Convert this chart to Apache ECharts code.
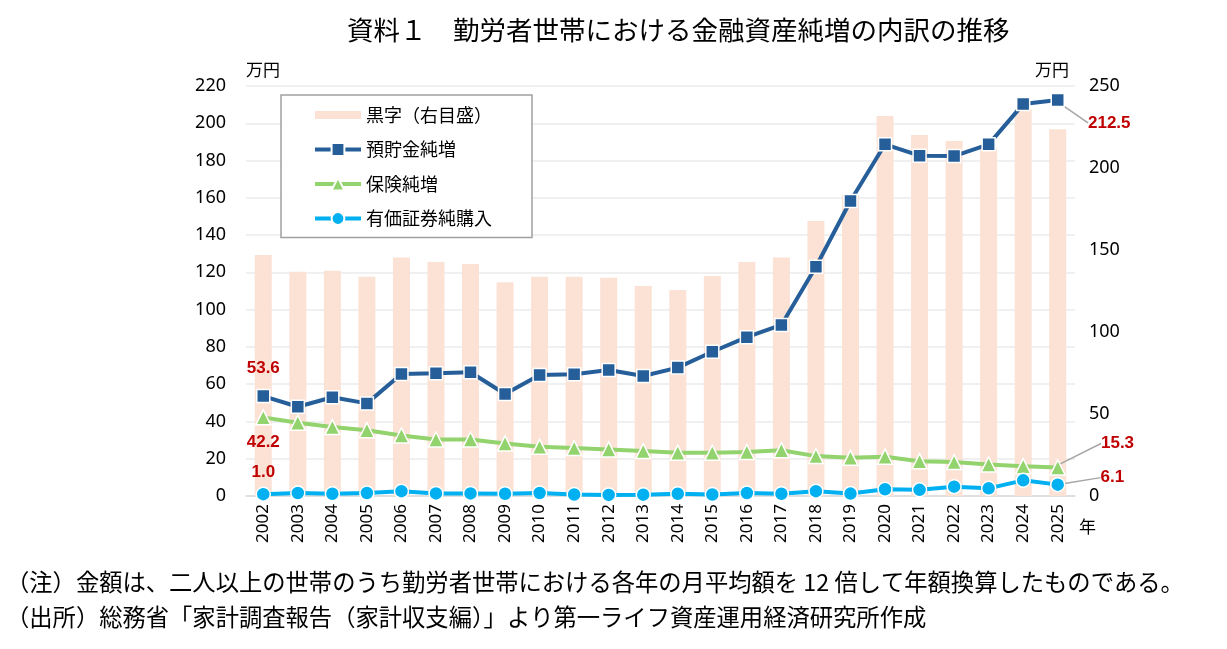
<!DOCTYPE html>
<html lang="ja">
<head>
    <meta charset="utf-8">
    <title>勤労者世帯における金融資産純増の内訳の推移</title>
    <script src="https://cdn.jsdelivr.net/npm/echarts@6/dist/echarts.min.js"></script>
    <style type="text/css">
        html, body {margin: 0; padding: 0; background: #fff;}
        #chart {width: 1227px; height: 649px;}
    </style>
</head>
<body>
    <div id="chart"></div>
    <script>
        // data (万円)
        var years = ['2002', '2003', '2004', '2005', '2006', '2007', '2008', '2009',
            '2010', '2011', '2012', '2013', '2014', '2015', '2016', '2017',
            '2018', '2019', '2020', '2021', '2022', '2023', '2024', '2025'];
        var surplus = [147, 136.8, 137.4, 133.7, 145.5, 142.7, 141.5, 130.3,
            133.7, 133.7, 133.1, 128, 125.6, 134.1, 142.7, 145.5,
            167.7, 183.5, 231.7, 220.1, 216.5, 212, 236, 223.6];
        var deposits = [53.6, 47.9, 53, 49.7, 65.5, 65.8, 66.4, 54.7,
            64.9, 65.3, 67.6, 64.4, 68.9, 77.4, 85.2, 91.8,
            123, 158.3, 188.7, 182.6, 182.4, 188.7, 210.3, 212.5];
        var insurance = [42.2, 39.3, 37, 35.3, 32.5, 30.3, 30.3, 28.2,
            26.4, 25.7, 25, 24.1, 23.2, 23.2, 23.6, 24.6,
            21.4, 20.5, 21.1, 18.7, 18.2, 16.9, 16, 15.3];
        var securities = [1.0, 1.6, 1.2, 1.6, 2.6, 1.4, 1.4, 1.2,
            1.6, 0.8, 0.6, 0.7, 1.2, 0.8, 1.6, 1.2,
            2.6, 1.3, 3.6, 3.3, 5.0, 4.1, 8.4, 6.1];
        var seriesNames = ['黒字（右目盛）', '預貯金純増', '保険純増', '有価証券純購入'];
        var leftTicks = {min: 0, max: 220, interval: 20};
        var rightTicks = {min: 0, max: 250, interval: 50};
        var noteLines = [
            '（注）金額は、二人以上の世帯のうち勤労者世帯における各年の月平均額を 12 倍して年額換算したものである。',
            '（出所）総務省「家計調査報告（家計収支編）」より第一ライフ資産運用経済研究所作成'
        ];

        var jp = '"Noto Sans CJK JP", "Noto Sans", sans-serif';
        var last = years.length - 1;
        var redLabel = {
            color: '#c00000', fontWeight: 'bold', fontSize: 17,
            fontFamily: '"Liberation Sans", Arial, sans-serif'
        };

        // put a red value label on the first and last point only
        function withLabels(values, firstPos, firstDist) {
            return values.map(function (v, i) {
                if (i === 0) {
                    return {value: v, label: Object.assign({show: true, position: firstPos, distance: firstDist}, redLabel)};
                }
                if (i === last) {
                    return {value: v, label: Object.assign({show: true, position: 'right', distance: 5}, redLabel),
                        labelLine: {show: true, lineStyle: {color: '#a6a6a6', width: 1.5}}};
                }
                return v;
            });
        }
        function lastShift(dx, dy) {
            return function (p) {
                if (p.dataIndex === last) return {dx: dx, dy: dy};
            };
        }
        function fmt(p) { return p.value.toFixed(1); }

        var chart = echarts.init(document.getElementById('chart'));
        chart.setOption({
            animation: false,
            textStyle: {fontFamily: jp},
            title: {
                text: '資料１　勤労者世帯における金融資産純増の内訳の推移',
                left: 342, top: 12,
                textStyle: {fontSize: 26.5, fontWeight: 'normal', color: '#000', fontFamily: jp}
            },
            legend: {
                orient: 'vertical', left: 281, top: 95,
                padding: [11, 40, 10, 32],
                itemWidth: 46, itemHeight: 16, itemGap: 16.5,
                borderColor: '#a0a0a0', borderWidth: 1.5,
                backgroundColor: '#fff',
                lineStyle: {width: 4},
                textStyle: {fontSize: 18, color: '#000', fontFamily: jp},
                data: [
                    {name: seriesNames[0], icon: 'path://M0,0h46v8h-46z'},
                    {name: seriesNames[1]},
                    {name: seriesNames[2]},
                    {name: seriesNames[3]}
                ]
            },
            grid: {left: 246, right: 152, top: 86, bottom: 153},
            xAxis: {
                type: 'category', data: years,
                name: '年', nameLocation: 'end', nameGap: 4,
                nameTextStyle: {fontSize: 17, color: '#000', verticalAlign: 'top', padding: [22, 0, 0, 0]},
                axisLine: {lineStyle: {color: '#d9d9d9', width: 1.5}},
                axisTick: {show: false},
                axisLabel: {rotate: 90, fontSize: 17, color: '#000', margin: 8,
                    fontFamily: '"Noto Sans", sans-serif'}
            },
            yAxis: [{
                type: 'value', min: leftTicks.min, max: leftTicks.max, interval: leftTicks.interval,
                name: '万円', nameLocation: 'end', nameGap: 8,
                nameTextStyle: {fontSize: 17, color: '#000', align: 'left', padding: [0, 0, 0, 0]},
                axisLabel: {fontSize: 18, color: '#000', margin: 20, fontFamily: '"Noto Sans", sans-serif'},
                splitLine: {lineStyle: {color: '#ebebeb', width: 1.5}}
            }, {
                type: 'value', min: rightTicks.min, max: rightTicks.max, interval: rightTicks.interval,
                name: '万円', nameLocation: 'end', nameGap: 8,
                nameTextStyle: {fontSize: 17, color: '#000', align: 'right', padding: [0, 6, 0, 0]},
                axisLabel: {fontSize: 18, color: '#000', margin: 14, fontFamily: '"Noto Sans", sans-serif'},
                splitLine: {show: false}
            }],
            series: [{
                name: seriesNames[0], type: 'bar', yAxisIndex: 1,
                data: surplus, barWidth: 17,
                itemStyle: {color: '#fbe2d5'}
            }, {
                name: seriesNames[1], type: 'line', yAxisIndex: 0,
                data: withLabels(deposits, 'top', 12),
                symbol: 'rect', symbolSize: 13,
                lineStyle: {color: '#255e99', width: 4},
                itemStyle: {color: '#255e99', borderColor: '#fff', borderWidth: 1.5},
                label: {formatter: fmt},
                labelLayout: lastShift(18, 23)
            }, {
                name: seriesNames[2], type: 'line', yAxisIndex: 0,
                data: withLabels(insurance, 'bottom', 8),
                symbol: 'triangle', symbolSize: 15,
                lineStyle: {color: '#92d36e', width: 4},
                itemStyle: {color: '#92d36e', borderColor: '#fff', borderWidth: 1.5},
                label: {formatter: fmt},
                labelLayout: lastShift(30, -24)
            }, {
                name: seriesNames[3], type: 'line', yAxisIndex: 0,
                data: withLabels(securities, 'top', 6),
                symbol: 'circle', symbolSize: 14,
                lineStyle: {color: '#00b0f0', width: 4},
                itemStyle: {color: '#00b0f0', borderColor: '#fff', borderWidth: 1.5},
                label: {formatter: fmt},
                labelLayout: lastShift(30, -7)
            }],
            graphic: noteLines.map(function (t, i) {
                return {
                    type: 'text', left: 6, top: 570 + i * 35,
                    style: {text: t, fontSize: 23.3, fill: '#000', fontFamily: jp}
                };
            })
        });
    </script>
</body>
</html>
